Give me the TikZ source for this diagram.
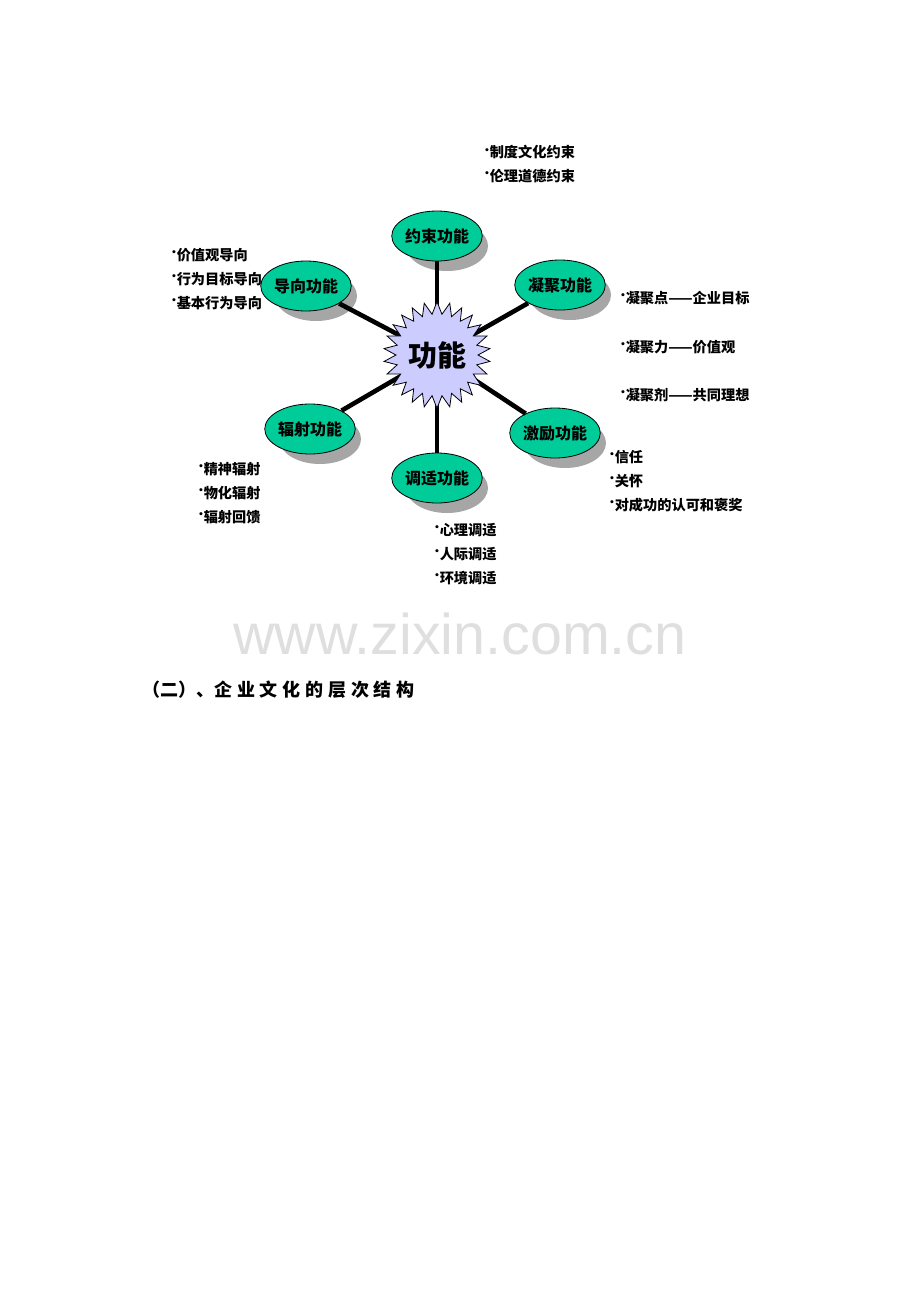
\documentclass[tikz,border=0pt]{standalone}
\usepackage{fontspec}
\setmainfont{Noto Sans CJK SC}
\usetikzlibrary{shapes.geometric}
\newcommand{\bl}{\raisebox{0.45ex}{\scalebox{0.8}{•}}\hspace{-1.5pt}}
\newcommand{\hs}{\hspace{2.4pt}}
\begin{document}
\begin{tikzpicture}[x=0.5pt,y=-0.5pt,
  fn/.style={ellipse,draw=black,fill={rgb,255:red,0;green,204;blue,153},minimum width=41pt,minimum height=25pt,inner sep=0pt,font=\fontsize{8}{9}\selectfont\bfseries},
  shd/.style={ellipse,fill=gray!70,minimum width=41pt,minimum height=25pt},
  lk/.style={line width=2.3pt},
  tx/.style={anchor=west,inner sep=0pt,font=\fontsize{7.1}{8}\selectfont\bfseries}]
\useasboundingbox (0,0) rectangle (920,1302);
\foreach \x/\y in {437/236,306/286,560/285,310/429,555/433,437/478}
  \node[shd] at (\x+10,\y+10) {};
\coordinate (cc) at (437,355);
\node[fn] (a) at (437,236) {约束功能};
\node[fn] (b) at (306,286) {导向功能};
\node[fn] (d) at (560,285) {凝聚功能};
\node[fn] (e) at (310,429) {辐射功能};
\node[fn] (f) at (555,433) {激励功能};
\node[fn] (g) at (437,478) {调适功能};
\foreach \n in {a,b,d,e,f,g} \draw[lk] (\n) -- (cc);
\node[star,star points=26,star point ratio=1.3,minimum size=53pt,draw=black,fill={rgb,255:red,204;green,204;blue,255},inner sep=0pt,font=\fontsize{14.5}{15}\selectfont\bfseries] (c) at (cc) {功能};
\node[tx] (t1) at (481,152) {\bl 制度文化约束};
\node[tx] (t2) at (481,176) {\bl 伦理道德约束};
\node[tx] (t3) at (168,255) {\bl 价值观导向};
\node[tx] (t4) at (168,279) {\bl 行为目标导向};
\node[tx] (t5) at (168,303) {\bl 基本行为导向};
\node[tx] (t6) at (617,298) {\bl 凝聚点——企业目标};
\node[tx] (t7) at (617,347) {\bl 凝聚力——价值观};
\node[tx] (t8) at (617,395) {\bl 凝聚剂——共同理想};
\node[tx] (t9) at (606,457) {\bl 信任};
\node[tx] (t10) at (606,481) {\bl 关怀};
\node[tx] (t11) at (606,505) {\bl 对成功的认可和褒奖};
\node[tx] (t12) at (195,469) {\bl 精神辐射};
\node[tx] (t13) at (195,493) {\bl 物化辐射};
\node[tx] (t14) at (195,517) {\bl 辐射回馈};
\node[tx] (t15) at (431,530) {\bl 心理调适};
\node[tx] (t16) at (431,554) {\bl 人际调适};
\node[tx] (t17) at (431,578) {\bl 环境调适};
\node[text=gray!25,font=\fontsize{28.7}{30}\selectfont\fontspec{Liberation Sans}] (w) at (460,634) {www.zixin.com.cn};
\node[anchor=west,inner sep=0pt,font=\fontsize{9}{10}\selectfont\bfseries] (h) at (142,690) {（二）、企\hs 业\hs 文\hs 化\hs 的\hs 层\hs 次\hs 结\hs 构};
\end{tikzpicture}
\end{document}
